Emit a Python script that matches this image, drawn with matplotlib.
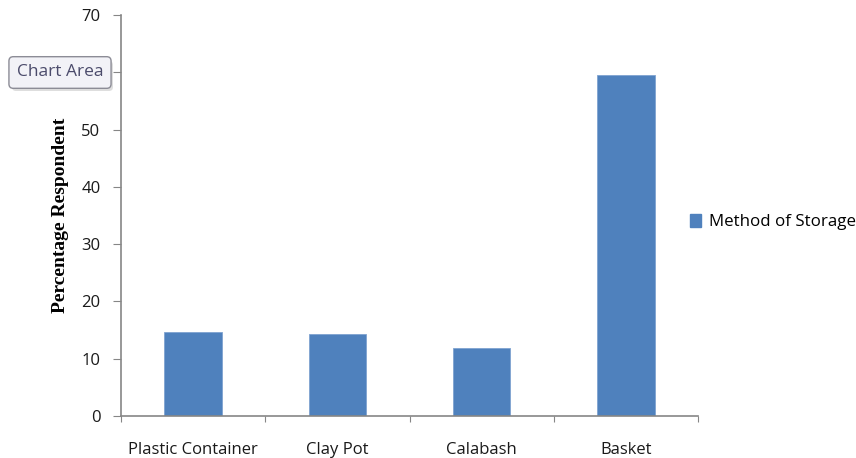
import matplotlib
matplotlib.use("Agg")
import matplotlib.pyplot as plt
from matplotlib.patches import Patch, FancyBboxPatch
from matplotlib.transforms import IdentityTransform

categories = ["Plastic Container", "Clay Pot", "Calabash", "Basket"]
values = [14.7, 14.3, 11.8, 59.5]
series_name = "Method of Storage"
yticks = [0, 10, 20, 30, 40, 50, 60, 70]

plt.rcParams['font.family'] = ['Open Sans', 'DejaVu Sans']

fig = plt.figure(figsize=(8.56, 4.58), dpi=100)
ax = fig.add_axes([121/856, 42/458, (698-121)/856, (416-15)/458])

bar_color = "#4F81BD"
x = list(range(len(categories)))
ax.bar(x, values, width=0.4, color=bar_color, edgecolor="#7FA3D0", linewidth=0.6, zorder=2)

ax.set_xlim(-0.5, len(categories) - 0.5)
ax.set_ylim(0, 70)
ax.set_yticks(yticks)
ax.set_yticklabels([str(t) for t in yticks], fontsize=12, color="#1a1a1a")

ax.set_xticks([i - 0.5 for i in range(len(categories) + 1)])
ax.set_xticklabels([])
ax.set_xticks(x, minor=True)
ax.set_xticklabels(categories, minor=True, fontsize=12, color="#1a1a1a")
ax.tick_params(axis='x', which='minor', length=0, pad=19)
ax.tick_params(axis='x', which='major', length=4.5, color="#868686", direction='out')
ax.tick_params(axis='y', length=5.8, color="#868686", direction='out', pad=9)

for s in ["top", "right"]:
    ax.spines[s].set_visible(False)
for s in ["left", "bottom"]:
    ax.spines[s].set_color("#868686")
    ax.spines[s].set_linewidth(1.2)

ax.set_ylabel("Percentage Respondent", fontsize=14, fontweight="bold",
              family=["Liberation Serif", "DejaVu Serif"], labelpad=9)

handles = [Patch(facecolor=bar_color, edgecolor=bar_color, label=series_name)]
fig.legend(handles=handles, loc="center left", bbox_to_anchor=(683/856, 1 - 222/458),
           frameon=False, fontsize=12.2, handlelength=0.65, handleheight=0.8,
           handletextpad=0.5, borderaxespad=0)

# soft shadow behind the tooltip (pixel coordinates)
shadow = FancyBboxPatch((12, 458 - 91), 101, 30, boxstyle="round,pad=0,rounding_size=4",
                        transform=IdentityTransform(), facecolor="#C8C8C8",
                        edgecolor="none", alpha=0.6, zorder=9)
fig.add_artist(shadow)
fig.text(60/856, 1 - 72.5/458, "Chart Area", fontsize=12.5, color="#4B4B6B",
         ha="center", va="center", zorder=10,
         bbox=dict(boxstyle="round,pad=0.45,rounding_size=0.25", facecolor="#F2F2F7",
                   edgecolor="#8C8C96", linewidth=1.0))

fig.savefig("out.png", dpi=100)
